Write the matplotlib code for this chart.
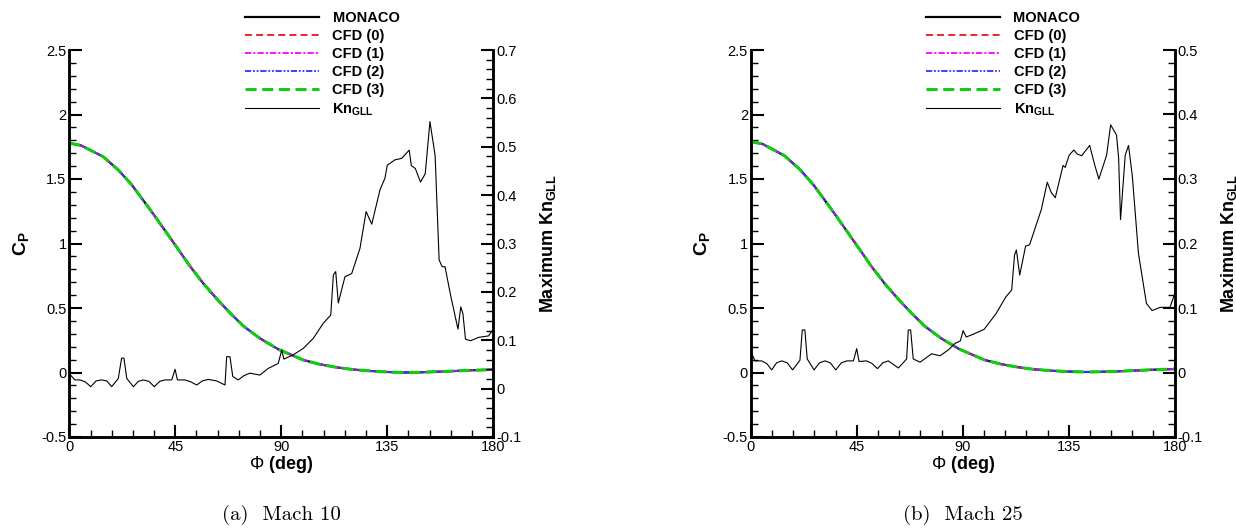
import matplotlib
matplotlib.use('Agg')
import matplotlib.pyplot as plt
from matplotlib.ticker import MultipleLocator

plt.rcParams['font.family'] = ['Liberation Sans', 'DejaVu Sans']
plt.rcParams['mathtext.fontset'] = 'custom'
plt.rcParams['mathtext.rm'] = 'Liberation Sans'
plt.rcParams['mathtext.bf'] = 'Liberation Sans:bold'
plt.rcParams['lines.scale_dashes'] = False

# surface pressure coefficient vs. angle
phi_cp = [0, 5, 8.8, 14.4, 20.8, 26.5, 31.4, 36.4, 41.3, 46.3, 51.2, 56.9, 62.6, 68.2,
          73.9, 80.9, 88.7, 99.3, 106, 113.5, 120, 127.6, 135, 141.8, 148, 156, 163, 170.1, 180]
cp_m10 = [1.778, 1.760, 1.725, 1.673, 1.570, 1.455, 1.335, 1.210, 1.083, 0.953, 0.825, 0.690,
          0.571, 0.462, 0.360, 0.265, 0.180, 0.097, 0.065, 0.040, 0.024, 0.012, 0.004, 0.000,
          0.001, 0.006, 0.011, 0.017, 0.022]
cp_m25 = [1.790, 1.772, 1.735, 1.680, 1.575, 1.458, 1.337, 1.211, 1.083, 0.953, 0.824, 0.689,
          0.570, 0.461, 0.359, 0.264, 0.180, 0.097, 0.066, 0.041, 0.025, 0.014, 0.007, 0.004,
          0.005, 0.009, 0.015, 0.021, 0.027]

# maximum gradient-length-local Knudsen number
phi_kn10 = [0, 0.5, 2.4, 4.5, 6.8, 9.1, 11.4, 13.7, 15.9, 18, 20.8, 22.2, 23.2, 24.4, 27.2,
            29.3, 31.4, 33.8, 36.1, 38.4, 40.6, 43.5, 44.9, 45.9, 49.1, 51.6, 54.1, 56.5, 59,
            62.5, 66.1, 66.8, 68.2, 69.4, 71.7, 74.2, 76.7, 80.9, 84.5, 88.7, 90.2, 91.1, 95.1,
            99.3, 103.6, 107.8, 111, 112.1, 113.1, 114.2, 117, 119.9, 123.4, 126, 128.4, 131.9,
            134, 135, 138.3, 141.1, 144.3, 145.2, 146.9, 149.1, 151.1, 153.1, 155.3, 157, 158.3,
            159.5, 162, 165, 166.2, 167.1, 168.2, 170.4, 173.8, 178, 180]
kn_m10 = [0.050, 0.028, 0.018, 0.018, 0.014, 0.004, 0.016, 0.018, 0.016, 0.004, 0.021, 0.063,
          0.063, 0.021, 0.004, 0.015, 0.018, 0.015, 0.004, 0.015, 0.018, 0.018, 0.040, 0.018,
          0.018, 0.014, 0.0075, 0.016, 0.019, 0.016, 0.0075, 0.066, 0.066, 0.025, 0.018, 0.027,
          0.032, 0.028, 0.042, 0.052, 0.080, 0.061, 0.070, 0.083, 0.104, 0.135, 0.152, 0.235,
          0.242, 0.177, 0.231, 0.238, 0.290, 0.366, 0.340, 0.411, 0.435, 0.462, 0.473, 0.476,
          0.493, 0.461, 0.455, 0.427, 0.444, 0.552, 0.482, 0.266, 0.252, 0.252, 0.190, 0.123,
          0.169, 0.155, 0.102, 0.099, 0.106, 0.109, 0.123]

phi_kn25 = [0, 0.4, 1.8, 4.6, 6.8, 8.9, 11.0, 13.2, 15.5, 17.8, 20.9, 21.9, 23, 24, 26.9, 29.2,
            31.5, 33.8, 36.1, 38.5, 40.8, 43.6, 45, 46, 49.2, 51.5, 53.8, 56.1, 58.4, 62.7, 66.2,
            66.9, 67.9, 69, 71.9, 76.8, 80.4, 83.9, 86.7, 89, 90.2, 91.5, 94.9, 99.1, 104.1,
            108.3, 110.8, 112, 112.8, 114.2, 116.7, 118.4, 123.4, 125.9, 127.6, 129.3, 132.6,
            133.5, 135.2, 137.2, 138.5, 140.5, 143.9, 146.1, 147.8, 151.1, 152.8, 155.3, 156.2,
            157, 159, 160.4, 162, 164.6, 168, 170.4, 173.8, 178, 180]
kn_m25 = [0.040, 0.030, 0.018, 0.018, 0.014, 0.004, 0.015, 0.018, 0.015, 0.004, 0.019, 0.066,
          0.066, 0.021, 0.004, 0.015, 0.018, 0.015, 0.004, 0.015, 0.018, 0.018, 0.037, 0.017,
          0.018, 0.014, 0.006, 0.015, 0.018, 0.007, 0.021, 0.066, 0.066, 0.021, 0.016, 0.029,
          0.026, 0.035, 0.045, 0.049, 0.065, 0.055, 0.060, 0.067, 0.091, 0.117, 0.128, 0.182,
          0.190, 0.151, 0.196, 0.198, 0.253, 0.295, 0.279, 0.271, 0.321, 0.318, 0.337, 0.345,
          0.339, 0.336, 0.352, 0.321, 0.300, 0.337, 0.384, 0.368, 0.332, 0.237, 0.337, 0.352,
          0.305, 0.185, 0.107, 0.096, 0.101, 0.101, 0.122]

panels = [
    dict(cp=cp_m10, phi_kn=phi_kn10, kn=kn_m10, knlim=(-0.1, 0.7), x0=69.3,
         leg_x=245, caption='(a)  Mach 10'),
    dict(cp=cp_m25, phi_kn=phi_kn25, kn=kn_m25, knlim=(-0.1, 0.5), x0=750.7,
         leg_x=926, caption='(b)  Mach 25'),
]

W, H = 1236, 529
fig = plt.figure(figsize=(W / 100, H / 100), dpi=100)

styles = [
    ('MONACO', 'k', '-', 1.6),
    ('CFD (0)', '#e8141e', (0, (5, 3)), 1.3),
    ('CFD (1)', '#ff00ff', (0, (4.5, 1.5, 1.5, 1.5)), 1.3),
    ('CFD (2)', '#3030ff', (0, (4.5, 1.3, 1.3, 1.3, 1.3, 1.3)), 1.3),
    ('CFD (3)', '#11cc11', (0, (8, 4)), 2.2),
]

for p in panels:
    ax = fig.add_axes([p['x0'] / W, (H - 437) / H, 424 / W, 387 / H])
    handles = []
    for lab, c, ls, lw in styles:
        h, = ax.plot(phi_cp, p['cp'], color=c, ls=ls, lw=lw, label=lab)
        handles.append(h)
    ax.set_xlim(0, 180)
    ax.set_ylim(-0.5, 2.5)
    ax.xaxis.set_major_locator(MultipleLocator(45))
    ax.xaxis.set_minor_locator(MultipleLocator(9))
    ax.yaxis.set_major_locator(MultipleLocator(0.5))
    ax.yaxis.set_minor_locator(MultipleLocator(0.1))
    ax.yaxis.set_major_formatter(plt.FuncFormatter(lambda v, _: f'{v:g}'))

    ax2 = ax.twinx()
    hk, = ax2.plot(p['phi_kn'], p['kn'], color='k', lw=0.8, label=r'Kn$_{\mathbf{GLL}}$')
    handles.append(hk)
    ax2.set_ylim(*p['knlim'])
    ax2.yaxis.set_major_locator(MultipleLocator(0.1))
    ax2.yaxis.set_minor_locator(MultipleLocator(0.02))
    ax2.yaxis.set_major_formatter(plt.FuncFormatter(lambda v, _: f'{v:g}'))

    for a in (ax, ax2):
        a.spines['top'].set_visible(False)
        for s in ('left', 'right', 'bottom'):
            a.spines[s].set_linewidth(1.8)
        a.tick_params(which='major', direction='in', length=9, width=1.5,
                      labelsize=10.5, pad=2)
        a.tick_params(which='minor', direction='in', length=5, width=1.0)
    ax.tick_params(axis='x', top=False)
    ax.tick_params(axis='y', right=False)

    ax.set_xlabel(r'$\Phi$ (deg)', fontsize=13, fontweight='bold', labelpad=0)
    ax.set_ylabel(r'$\mathbf{C}_\mathbf{P}$', fontsize=14)
    ax.yaxis.set_label_coords(-0.088, 0.5)
    ax2.set_ylabel(r'Maximum Kn$_{\mathbf{GLL}}$', fontsize=13, fontweight='bold')
    ax2.yaxis.set_label_coords(1.105, 0.5)

    ax.legend(handles, [h.get_label() for h in handles], loc='upper left',
              bbox_to_anchor=(p['leg_x'] / W, 1 - 11 / H), bbox_transform=fig.transFigure,
              frameon=False, borderpad=0, borderaxespad=0, handlelength=5.1,
              handletextpad=0.9, labelspacing=0.28,
              prop={'weight': 'bold', 'size': 10.5})

    fig.text((p['x0'] + 212) / W, 1 - 515 / H, p['caption'], ha='center', va='center',
             fontsize=15, family='cmr10')

fig.savefig('out.png', dpi=100)
